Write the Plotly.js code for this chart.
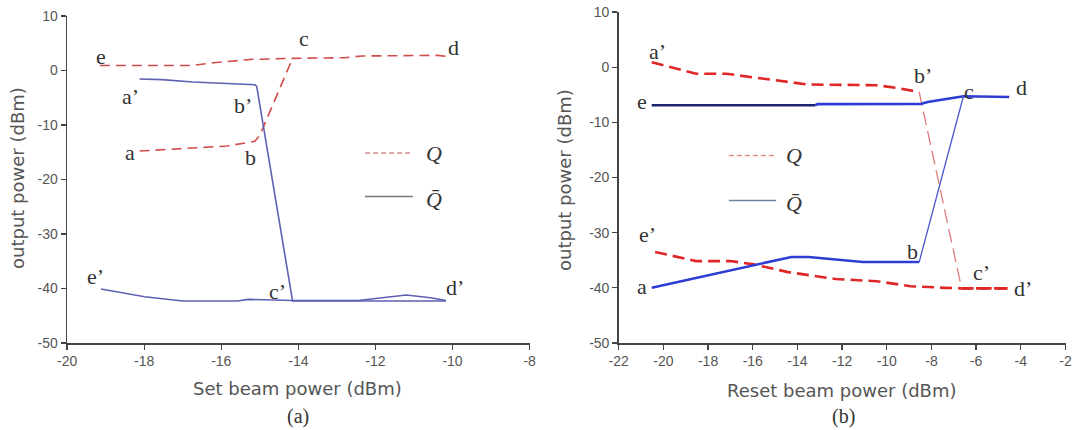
<!DOCTYPE html>
<html>
<head>
<meta charset="utf-8">
<script src="https://cdn.plot.ly/plotly-3.0.1.min.js"></script>
<style>
  html, body { margin: 0; padding: 0; background: #ffffff; }
  #chart { width: 1075px; height: 430px; }
</style>
</head>
<body>
<div id="chart"></div>
<script>
// ---- (a) output power vs set beam power ----
const setQUpperX = [-19.15, -16.74, -16.2, -15.22, -14.15, -12.8, -12.36, -10.39, -10.17];
const setQUpperY = [0.93, 0.93, 1.42, 2.04, 2.23, 2.35, 2.66, 2.78, 2.6];
const setQLowerX = [-18.12, -16.74, -15.84, -15.13, -15.0, -14.15];
const setQLowerY = [-14.78, -14.2, -13.85, -13.0, -11.9, 2.23];
const setQbarUpperX = [-18.12, -17.54, -16.74, -15.13, -15.08, -14.15, -10.17];
const setQbarUpperY = [-1.55, -1.67, -2.1, -2.6, -2.9, -42.3, -42.3];
const setQbarLowerX = [-19.12, -17.99, -17.0, -15.58, -15.3, -14.15, -12.45, -11.73, -11.2, -10.57, -10.17];
const setQbarLowerY = [-40.1, -41.5, -42.3, -42.3, -42.0, -42.2, -42.2, -41.7, -41.2, -41.7, -42.2];

// ---- (b) output power vs reset beam power ----
const resetQUpperX = [-20.52, -19.6, -18.54, -17.17, -15.95, -14.1, -13.5, -10.46, -9.55, -8.55, -6.65, -4.59];
const resetQUpperY = [0.9, -0.1, -1.2, -1.2, -1.9, -2.85, -3.15, -3.27, -3.75, -4.5, -40.1, -40.1];
const resetQLowerX = [-20.37, -18.54, -17.0, -15.95, -14.42, -12.29, -10.46, -8.94, -7.41, -6.65, -4.59];
const resetQLowerY = [-33.5, -35.15, -35.15, -35.75, -37.15, -38.4, -38.8, -39.7, -40.0, -40.1, -40.1];
const resetQbarUpperX = [-20.52, -13.2, -13.1, -8.48, -8.17, -6.57, -4.52];
const resetQbarUpperY = [-6.9, -6.9, -6.7, -6.67, -6.3, -5.27, -5.4];
const resetQbarLowerX = [-20.52, -14.27, -13.5, -12.29, -11.07, -8.55, -6.57];
const resetQbarLowerY = [-40, -34.4, -34.4, -34.85, -35.33, -35.33, -5.27];

// ---- ticks ----
const setTicks = [-20, -18, -16, -14, -12, -10, -8];
const setTickText = ['-20', '-18', '-16', '-14', '-12', '-10', '-8'];
const resetTicks = [-22, -20, -18, -16, -14, -12, -10, -8, -6, -4, -2];
const resetTickText = ['-22', '-20', '-18', '-16', '-14', '-12', '-10', '-8', '-6', '-4', '-2'];
const powerTicks = [-50, -40, -30, -20, -10, 0, 10];
const powerTickText = ['-50', '-40', '-30', '-20', '-10', '0', '10'];

// ---- styles ----
const qA = { color: '#d24c4c', width: 1.6, dash: '10px,6px' };
const qbarA = { color: '#5d60b2', width: 1.6 };
const qB = { color: '#e02626', width: 2.6, dash: '12px,6px' };
const qBThin = { color: '#e07a7a', width: 1.3, dash: '14px,6px' };
const qbarB = { color: '#2c3cd4', width: 2.6 };
const qbarBDark = { color: '#1c2470', width: 2.6 };
const qbarBThin = { color: '#4a56cc', width: 1.3 };

function seg(x, y, line, xa, ya) {
  return { x: x, y: y, type: 'scatter', mode: 'lines', line: line,
           xaxis: xa, yaxis: ya, hoverinfo: 'skip', showlegend: false };
}

const traces = [
  seg(setQUpperX, setQUpperY, qA, 'x', 'y'),
  seg(setQLowerX, setQLowerY, qA, 'x', 'y'),
  seg(setQbarLowerX, setQbarLowerY, qbarA, 'x', 'y'),
  seg(setQbarUpperX, setQbarUpperY, qbarA, 'x', 'y'),

  // reset curves: flat branches thick, switching edges thin
  seg(resetQLowerX, resetQLowerY, qB, 'x2', 'y2'),
  seg(resetQUpperX.slice(0, 10), resetQUpperY.slice(0, 10), qB, 'x2', 'y2'),
  seg(resetQUpperX.slice(9, 11), resetQUpperY.slice(9, 11), qBThin, 'x2', 'y2'),
  seg(resetQUpperX.slice(10), resetQUpperY.slice(10), qB, 'x2', 'y2'),
  seg(resetQbarUpperX.slice(0, 2), resetQbarUpperY.slice(0, 2), qbarBDark, 'x2', 'y2'),
  seg(resetQbarUpperX.slice(1), resetQbarUpperY.slice(1), qbarB, 'x2', 'y2'),
  seg(resetQbarLowerX.slice(0, 6), resetQbarLowerY.slice(0, 6), qbarB, 'x2', 'y2'),
  seg(resetQbarLowerX.slice(5, 7), resetQbarLowerY.slice(5, 7), qbarBThin, 'x2', 'y2')
];

const tickFont = { family: 'Liberation Sans, Arial, sans-serif', size: 14, color: '#555' };
function axisStyle(extra) {
  return Object.assign({
    showline: true, linecolor: '#444', linewidth: 1.5,
    ticks: 'outside', ticklen: 5, tickwidth: 1.3, tickcolor: '#444',
    showgrid: false, zeroline: false, tickfont: tickFont, tickmode: 'array',
    ticklabeloverflow: 'allow', fixedrange: true
  }, extra);
}

const serif = 'Liberation Serif, Times New Roman, serif';
const titleFont = { family: 'DejaVu Sans, sans-serif', size: 18, color: '#555' };

function pointLabel(text, x, y, xref, yref) {
  return { text: text, x: x, y: y, xref: xref, yref: yref, showarrow: false,
           font: { family: serif, size: 22, color: '#333' } };
}
function paperText(text, x, y, font, angle) {
  return { text: text, x: x, y: y, xref: 'paper', yref: 'paper', showarrow: false,
           xanchor: 'center', yanchor: 'middle', font: font, textangle: angle || 0 };
}
function legendText(text, x, y, xref, yref) {
  return { text: text, x: x, y: y, xref: xref, yref: yref, showarrow: false,
           xanchor: 'left', font: { family: serif, size: 22, color: '#333' } };
}

const annotations = [
  // state labels, set-beam panel
  pointLabel('e', -19.13, 2.5, 'x', 'y'),
  pointLabel('c', -13.86, 5.9, 'x', 'y'),
  pointLabel('d', -9.97, 4.3, 'x', 'y'),
  pointLabel('a’', -18.35, -4.8, 'x', 'y'),
  pointLabel('b’', -15.44, -6.4, 'x', 'y'),
  pointLabel('a', -18.36, -15.0, 'x', 'y'),
  pointLabel('b', -15.25, -16.0, 'x', 'y'),
  pointLabel('e’', -19.27, -37.85, 'x', 'y'),
  pointLabel('c’', -14.55, -40.5, 'x', 'y'),
  pointLabel('d’', -9.93, -39.9, 'x', 'y'),
  // state labels, reset-beam panel
  pointLabel('a’', -20.26, 2.9, 'x2', 'y2'),
  pointLabel('b’', -8.4, -1.45, 'x2', 'y2'),
  pointLabel('e', -20.95, -6.3, 'x2', 'y2'),
  pointLabel('c', -6.34, -4.36, 'x2', 'y2'),
  pointLabel('d', -3.95, -3.6, 'x2', 'y2'),
  pointLabel('e’', -20.72, -30.4, 'x2', 'y2'),
  pointLabel('a', -20.95, -39.7, 'x2', 'y2'),
  pointLabel('b', -8.86, -33.45, 'x2', 'y2'),
  pointLabel('c’', -5.78, -37.3, 'x2', 'y2'),
  pointLabel('d’', -3.9, -40.1, 'x2', 'y2'),
  // legend keys
  legendText('<i>Q</i>', -10.75, -15.2, 'x', 'y'),
  legendText('<i>Q̄</i>', -10.75, -23.7, 'x', 'y'),
  legendText('<i>Q</i>', -14.6, -16.0, 'x2', 'y2'),
  legendText('<i>Q̄</i>', -14.6, -24.7, 'x2', 'y2'),
  // axis titles
  paperText('Set beam power (dBm)', 297 / 1075, 1 - 388 / 430, titleFont),
  paperText('Reset beam power (dBm)', 842 / 1075, 1 - 390 / 430, titleFont),
  paperText('output power (dBm)', 17 / 1075, 1 - 178 / 430, titleFont, -90),
  paperText('output power (dBm)', 564 / 1075, 1 - 180 / 430, titleFont, -90),
  // panel captions
  paperText('(a)', 298 / 1075, 1 - 416 / 430, { family: serif, size: 20, color: '#333' }),
  paperText('(b)', 843 / 1075, 1 - 416 / 430, { family: serif, size: 20, color: '#333' })
];

const shapes = [
  { type: 'line', xref: 'x', yref: 'y', x0: -12.27, x1: -11.03, y0: -15.16, y1: -15.16,
    line: { color: '#d88a8a', width: 1.5, dash: '5px,3px' } },
  { type: 'line', xref: 'x', yref: 'y', x0: -12.27, x1: -11.03, y0: -23.13, y1: -23.13,
    line: { color: '#777', width: 1.5 } },
  { type: 'line', xref: 'x2', yref: 'y2', x0: -17.07, x1: -14.95, y0: -16.03, y1: -16.03,
    line: { color: '#d88a8a', width: 1.5, dash: '5px,3px' } },
  { type: 'line', xref: 'x2', yref: 'y2', x0: -17.07, x1: -14.95, y0: -24.16, y1: -24.16,
    line: { color: '#7080a0', width: 1.5 } }
];

const layout = {
  width: 1075, height: 430,
  margin: { l: 0, r: 0, t: 0, b: 0 },
  paper_bgcolor: '#ffffff', plot_bgcolor: '#ffffff',
  showlegend: false,
  xaxis: axisStyle({ domain: [67.1 / 1075, 529.6 / 1075], range: [-20, -8],
                     tickvals: setTicks, ticktext: setTickText, anchor: 'y' }),
  yaxis: axisStyle({ domain: [87 / 430, 414 / 430], range: [-50, 10],
                     tickvals: powerTicks, ticktext: powerTickText, anchor: 'x' }),
  xaxis2: axisStyle({ domain: [618.7 / 1075, 1065.5 / 1075], range: [-22, -2],
                      tickvals: resetTicks, ticktext: resetTickText, anchor: 'y2' }),
  yaxis2: axisStyle({ domain: [87 / 430, 418 / 430], range: [-50, 10],
                      tickvals: powerTicks, ticktext: powerTickText, anchor: 'x2' }),
  annotations: annotations,
  shapes: shapes
};

Plotly.newPlot('chart', traces, layout, { staticPlot: true, displayModeBar: false });
</script>
</body>
</html>
